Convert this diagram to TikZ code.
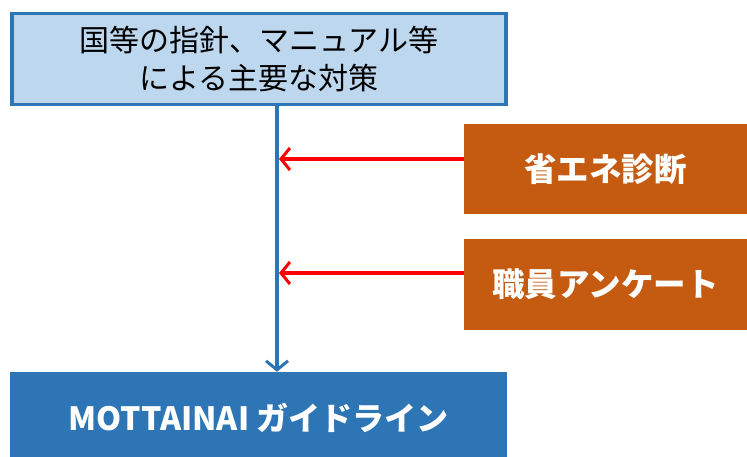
\documentclass[tikz,border=0pt]{standalone}
\usepackage{fontspec}
\setmainfont{Noto Sans CJK JP}
\usetikzlibrary{arrows.meta}
\definecolor{blueline}{HTML}{2E75B6}
\definecolor{bluefill}{HTML}{BDD7EE}
\definecolor{orangefill}{HTML}{C55A11}
\definecolor{darkblue}{HTML}{2E75B6}
\tikzset{
  topbox/.style={draw=blueline, fill=bluefill, line width=3.5pt, inner sep=0pt, align=center, font=\fontsize{30}{38}\selectfont},
  orangebox/.style={fill=orangefill, inner sep=0pt, text=white, font=\fontsize{32.5}{36}\selectfont\bfseries},
  bottombox/.style={fill=darkblue, inner sep=0pt, text=white, font=\fontsize{32}{36}\selectfont\bfseries},
  redarrow/.style={draw=red, line width=3.5pt, -{Straight Barb[length=9pt, width=22pt, line width=3pt]}},
  bluearrow/.style={draw=blueline, line width=3.5pt, -{Straight Barb[length=9pt, width=22pt, line width=3pt]}},
}
\begin{document}
\begin{tikzpicture}[x=1pt, y=-1pt]
\useasboundingbox (0,0) rectangle (747,457);
\node[topbox, minimum width=494pt, minimum height=91pt] (top) at (259,59) {国等の指針、マニュアル等\\による主要な対策};
\node[orangebox, minimum width=283pt, minimum height=90pt] (o1) at (605.5,169) {省エネ診断};
\node[orangebox, minimum width=283pt, minimum height=91pt] (o2) at (605.5,284.5) {職員アンケート};
\node[bottombox, minimum width=497pt, minimum height=90pt, text depth=0pt] (bot) at (258.5,417) {MOTTAINAI ガイドライン};
\coordinate (j1) at (279,159);
\coordinate (j2) at (279,273);
\draw[bluearrow] (top.south -| 277,0) -- (bot.north -| 277,0);
\draw[redarrow] (o1.west |- j1) -- (j1);
\draw[redarrow] (o2.west |- j2) -- (j2);
\end{tikzpicture}
\end{document}
